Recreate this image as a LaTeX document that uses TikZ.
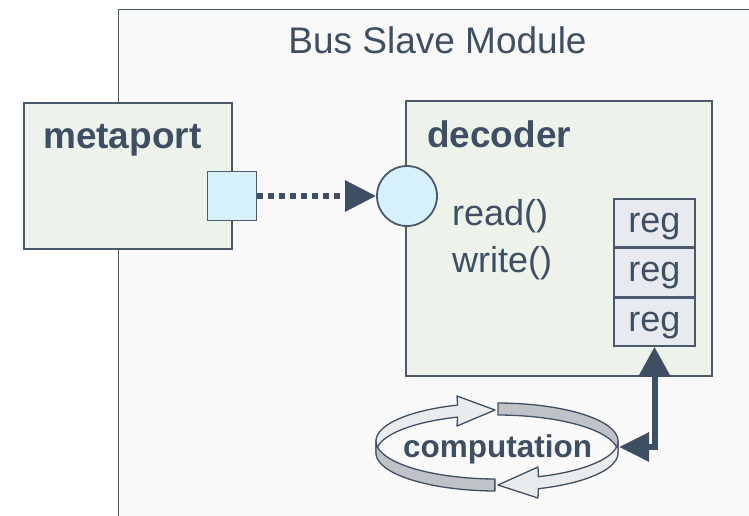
\documentclass[tikz,border=0pt]{standalone}
\usepackage{fontspec}
\setmainfont{Liberation Sans}
\usetikzlibrary{arrows.meta}

\definecolor{ink}{HTML}{3E4F63}
\definecolor{edge}{HTML}{4A5A6C}
\definecolor{modfill}{HTML}{F9F9F9}
\definecolor{boxfill}{HTML}{EDF2EB}
\definecolor{portfill}{HTML}{D6F0FC}
\definecolor{regfill}{HTML}{E7EBEF}
\definecolor{ringlight}{HTML}{E8ECEF}
\definecolor{ringdark}{HTML}{BFC3C8}

\tikzset{
  txt/.style={inner sep=0pt, text=ink, font=\fontsize{36}{40}\selectfont},
  boldtxt/.style={inner sep=0pt, text=ink, font=\fontsize{37}{40}\selectfont\bfseries},
  compbox/.style={draw=edge, line width=1.8pt, fill=boxfill, inner sep=0pt, anchor=north west},
  regbox/.style={draw=edge, line width=1.5pt, fill=regfill, inner sep=0pt,
    minimum width=81pt, minimum height=48pt, text height=23pt, text depth=5pt,
    text=ink, font=\fontsize{36}{40}\selectfont},
  link/.style={draw=ink, line width=6pt},
  ringpart/.style={draw=ink, line width=1.3pt, line join=round}
}

\begin{document}
\begin{tikzpicture}[x=1pt, y=-1pt]
  \useasboundingbox (0,0) rectangle (749,515);
  \clip (0,0) rectangle (749,515);
  \fill[white] (0,0) rectangle (749,515);

  % enclosing module
  \node[draw=edge, line width=1.3pt, fill=modfill, anchor=north west,
        minimum width=660pt, minimum height=530pt, inner sep=0pt] (module) at (118,9) {};
  \node[txt, font=\fontsize{37}{40}\selectfont, anchor=base] (title) at (437.5,53) {Bus Slave Module};

  % metaport component
  \node[compbox, minimum width=208pt, minimum height=146pt] (metaport) at (23,102) {};
  \node[boldtxt, anchor=base west] (metaportlabel) at (43,148) {metaport};
  \node[draw=edge, line width=1.8pt, fill=portfill, minimum width=49pt, minimum height=49pt,
        inner sep=0pt] (port) at (232,196) {};

  % decoder component
  \node[compbox, minimum width=306pt, minimum height=275pt] (decoder) at (405,100) {};
  \node[boldtxt, anchor=base west] (decoderlabel) at (427,147) {decoder};
  \node[txt, anchor=base west] (read) at (452,225) {read()};
  \node[txt, anchor=base west] (write) at (452,272) {write()};
  \node[draw=edge, line width=1.8pt, fill=portfill, circle, minimum size=60pt,
        inner sep=0pt] (sock) at (407,196) {};

  % register stack
  \node[regbox] (reg1) at (654.5,223) {reg};
  \node[regbox, anchor=north] (reg2) at (reg1.south) {reg};
  \node[regbox, anchor=north] (reg3) at (reg2.south) {reg};

  % port binding
  \draw[link, dash pattern=on 6pt off 5pt, -{Triangle[length=31pt, width=30pt]}]
    (port.east) -- (sock.west);

  % computation cycle: a ribbon ring made of two arrows and two plain strips
  \coordinate (ringR) at (619,447);
  \filldraw[ringpart, fill=ringlight]
    plot[domain=180:109, samples=40] ({497+121*cos(\x)}, {441-38*sin(\x)})
    -- (457,396) -- (495,410) -- (457,426)
    -- plot[domain=109:180, samples=40] ({497+121*cos(\x)}, {453-38*sin(\x)})
    -- cycle;
  \filldraw[ringpart, fill=ringdark]
    plot[domain=89.5:0, samples=50] ({497+121*cos(\x)}, {441-38*sin(\x)})
    -- plot[domain=0:89.5, samples=50] ({497+121*cos(\x)}, {453-38*sin(\x)})
    -- cycle;
  \filldraw[ringpart, fill=ringlight]
    plot[domain=360:290, samples=40] ({497+121*cos(\x)}, {441-38*sin(\x)})
    -- (538,467) -- (498,485) -- (538,498)
    -- plot[domain=290:360, samples=40] ({497+121*cos(\x)}, {453-38*sin(\x)})
    -- cycle;
  \filldraw[ringpart, fill=ringdark]
    plot[domain=269:180, samples=50] ({497+121*cos(\x)}, {441-38*sin(\x)})
    -- plot[domain=180:269, samples=50] ({497+121*cos(\x)}, {453-38*sin(\x)})
    -- cycle;
  \node[inner sep=0pt, text=ink, font=\fontsize{31.5}{34}\selectfont\bfseries, anchor=base]
    (comp) at (497.5,457) {computation};

  % register access
  \draw[link, line join=miter, {Triangle[length=30pt, width=31pt]}-{Triangle[length=30pt, width=28pt]}]
    (reg3.south) |- (ringR);
\end{tikzpicture}
\end{document}
